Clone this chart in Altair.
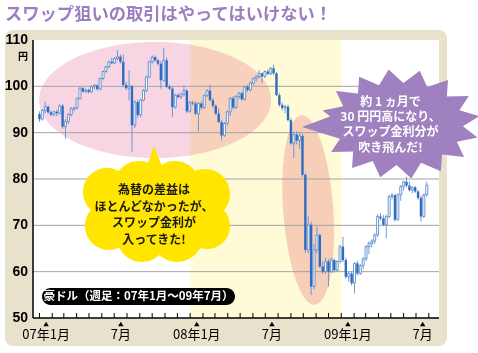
import math
import altair as alt
import pandas as pd

W, H = 406, 278
CJK = "Noto Sans CJK JP"

# ---------------- data (AUD/JPY weekly, Jan 2007 - Jul 2009) ----------------
open_ = [94.0, 92.9, 94.8, 95.6, 94.4, 93.9, 94.5, 94.2, 95.8, 91.3,
         92.4, 93.9, 95.2, 95.3, 97.4, 99.6, 98.9, 99.2, 98.8, 99.9,
         100.2, 99.4, 101.7, 103.2, 104.2, 105.3, 105.0, 106.0, 106.4, 105.3,
         100.3, 99.6, 100.0, 91.6, 96.6, 93.8, 97.0, 99.1, 102.0, 105.3,
         106.3, 105.6, 104.9, 101.3, 105.6, 99.9, 99.5, 95.5, 98.1, 97.7,
         98.3, 99.1, 94.6, 96.5, 96.3, 94.1, 96.3, 95.4, 98.0, 99.1,
         97.0, 95.8, 94.1, 92.3, 89.4, 92.0, 94.5, 97.4, 95.4, 97.8,
         98.5, 97.2, 99.9, 99.2, 100.7, 101.7, 102.1, 102.8, 102.1, 103.2,
         102.7, 103.9, 102.8, 98.1, 96.0, 95.3, 95.6, 92.7, 87.7, 89.6,
         88.3, 89.3, 80.9, 64.7, 70.1, 56.8, 64.7, 67.9, 61.1, 60.0,
         62.2, 60.0, 62.5, 60.3, 62.2, 65.4, 62.5, 58.9, 59.6, 57.5,
         61.8, 59.6, 61.3, 62.8, 65.4, 66.1, 66.6, 67.9, 71.9, 71.5,
         70.1, 71.9, 76.2, 76.5, 71.2, 76.6, 78.4, 79.4, 78.6, 77.6,
         78.2, 77.3, 75.9, 71.9, 76.6]
high = [94.6, 95.1, 96.7, 95.9, 94.8, 94.7, 94.9, 96.1, 96.2, 92.9,
        94.2, 95.5, 95.6, 97.6, 99.8, 99.9, 99.5, 99.5, 100.2, 100.5,
        100.4, 101.9, 103.4, 104.4, 105.5, 106.2, 106.3, 107.8, 106.9, 106.8,
        101.0, 103.5, 100.3, 97.0, 97.1, 97.3, 99.4, 102.3, 105.5, 106.7,
        106.6, 106.0, 105.4, 108.3, 106.2, 100.4, 100.0, 98.4, 98.5, 98.6,
        100.2, 99.4, 96.9, 96.9, 96.8, 96.6, 96.8, 98.3, 99.4, 100.4,
        97.5, 96.1, 95.2, 92.7, 92.3, 94.8, 97.7, 97.9, 98.1, 98.8,
        98.9, 100.2, 100.3, 101.0, 101.9, 102.4, 103.5, 103.0, 103.4, 103.6,
        104.1, 104.6, 103.1, 98.6, 96.5, 96.0, 96.0, 93.2, 90.2, 90.3,
        90.0, 89.8, 81.3, 71.9, 70.8, 66.0, 69.7, 68.3, 62.2, 63.0,
        62.7, 63.0, 62.9, 62.5, 65.8, 67.5, 63.0, 59.9, 60.0, 62.0,
        62.4, 61.6, 63.1, 65.7, 66.5, 67.0, 68.3, 72.4, 72.6, 72.2,
        72.3, 76.6, 77.0, 76.8, 76.9, 78.7, 79.6, 80.5, 79.4, 78.4,
        78.5, 77.6, 76.4, 76.9, 79.4]
low = [92.3, 92.6, 94.2, 94.1, 93.5, 93.5, 93.6, 93.9, 90.8, 88.7,
       91.9, 93.5, 94.6, 95.0, 97.1, 98.6, 98.5, 98.4, 98.6, 99.4,
       99.0, 99.2, 101.3, 102.9, 103.9, 104.8, 104.8, 105.6, 104.9, 99.8,
       99.2, 97.0, 85.9, 91.0, 93.2, 93.3, 96.7, 98.8, 101.8, 104.9,
       105.3, 104.5, 99.5, 101.0, 99.6, 99.2, 93.4, 95.2, 97.4, 97.3,
       97.9, 94.2, 94.3, 95.9, 93.8, 90.3, 94.9, 95.1, 97.7, 96.8,
       95.4, 93.8, 92.0, 88.3, 89.1, 91.6, 93.6, 95.0, 95.1, 97.2,
       96.9, 96.9, 98.8, 98.9, 100.3, 101.0, 101.7, 100.7, 101.8, 102.4,
       102.4, 102.5, 97.9, 95.6, 94.8, 94.2, 92.4, 87.4, 84.5, 87.5,
       86.5, 80.4, 64.0, 64.0, 55.0, 56.2, 64.0, 60.8, 59.5, 59.6,
       56.8, 59.7, 59.8, 60.0, 61.8, 62.0, 58.5, 57.8, 57.0, 55.3,
       59.2, 59.3, 60.5, 62.3, 63.8, 65.2, 66.0, 67.5, 71.0, 69.8,
       67.2, 71.5, 75.6, 70.8, 71.0, 75.3, 77.5, 78.2, 77.3, 76.9,
       77.0, 75.5, 70.8, 71.6, 76.2]
close = [92.9, 94.8, 95.6, 94.4, 93.9, 94.5, 94.2, 95.8, 91.3, 92.4,
         93.9, 95.2, 95.3, 97.4, 99.6, 98.9, 99.2, 98.8, 99.9, 100.2,
         99.4, 101.7, 103.2, 104.2, 105.3, 105.0, 106.0, 106.4, 105.3, 100.3,
         99.6, 100.0, 91.6, 96.6, 93.8, 97.0, 99.1, 102.0, 105.3, 106.3,
         105.6, 104.9, 101.3, 105.6, 99.9, 99.5, 95.5, 98.1, 97.7, 98.3,
         99.1, 94.6, 96.5, 96.3, 94.1, 96.3, 95.4, 98.0, 99.1, 97.0,
         95.8, 94.1, 92.3, 89.4, 92.0, 94.5, 97.4, 95.4, 97.8, 98.5,
         97.2, 99.9, 99.2, 100.7, 101.7, 102.1, 102.8, 102.1, 103.2, 102.7,
         103.9, 102.8, 98.1, 96.0, 95.3, 95.6, 92.7, 87.7, 89.6, 88.3,
         89.3, 80.9, 64.7, 70.1, 56.8, 64.7, 67.9, 61.1, 60.0, 62.2,
         60.0, 62.5, 60.3, 62.2, 65.4, 62.5, 58.9, 59.6, 57.5, 61.8,
         59.6, 61.3, 62.8, 65.4, 66.1, 66.6, 67.9, 71.9, 71.5, 70.1,
         71.9, 76.2, 76.5, 71.2, 76.6, 78.4, 79.4, 78.6, 77.6, 78.2,
         77.3, 75.9, 71.9, 76.6, 78.7]

y_ticks = [50, 60, 70, 80, 90, 100, 110]
grid_values = [60, 70, 80, 90, 100]
label_dates = ["2007-01-17", "2007-07-17", "2008-01-17", "2008-07-17", "2009-01-17", "2009-07-17"]
label_texts = ["07年1月", "7月", "08年1月", "7月", "09年1月", "7月"]
band_start, band_end = "2008-01-01", "2009-01-01"

title_text = "スワップ狙いの取引はやってはいけない！"
cloud_lines = ["為替の差益は", "ほとんどなかったが、", "スワップ金利が", "入ってきた!"]
burst_lines = ["約 1 ヵ月で", "30 円円高になり、", "スワップ金利分が", "吹き飛んだ!"]
pill_text = "豪ドル（週足：07年1月〜09年7月）"

# ---------------- frames ----------------
dates = pd.date_range("2007-01-01", periods=len(close), freq="7D").strftime("%Y-%m-%d")
df = pd.DataFrame({"date": dates, "open": open_, "high": high, "low": low, "close": close})
up = df[df["close"] >= df["open"]]
down = df[df["close"] < df["open"]]
one = pd.DataFrame({"k": [0]})
months = pd.DataFrame({"date": pd.date_range("2007-01-01", "2009-08-01", freq="MS").strftime("%Y-%m-%d")})
labels = pd.DataFrame({"date": label_dates, "label": label_texts})
band = pd.DataFrame({"start": [band_start], "end": [band_end]})
yt = pd.DataFrame({"v": y_ticks, "t": [str(v) for v in y_ticks]})

xscale = alt.Scale(type="utc", domain=[
    alt.DateTime(year=2006, month=12, date=28, hours=11, utc=True),
    alt.DateTime(year=2009, month=8, date=13, hours=13, utc=True)])
yscale = alt.Scale(domain=[50, 110], nice=False, zero=False)


def X(f):
    return alt.X(f, scale=xscale, axis=None)


def Y(f):
    return alt.Y(f, scale=yscale, axis=None)


# ---------------- decorative shape paths ----------------
def fmt(v, s):
    return f"{v / s:.4f}"


def ellipse_sub(cx, cy, rx, ry, s):
    k = 0.5523
    p = lambda a, b: f"{fmt(a, s)} {fmt(b, s)}"
    return (f"M{p(cx + rx, cy)} "
            f"C{p(cx + rx, cy + k * ry)} {p(cx + k * rx, cy + ry)} {p(cx, cy + ry)} "
            f"C{p(cx - k * rx, cy + ry)} {p(cx - rx, cy + k * ry)} {p(cx - rx, cy)} "
            f"C{p(cx - rx, cy - k * ry)} {p(cx - k * rx, cy - ry)} {p(cx, cy - ry)} "
            f"C{p(cx + k * rx, cy - ry)} {p(cx + rx, cy - k * ry)} {p(cx + rx, cy)} Z")


def poly_sub(pts, s):
    return "M" + " L".join(f"{fmt(a, s)} {fmt(b, s)}" for a, b in pts) + " Z"


pink_path = ellipse_sub(0, 0, 116, 58, 116)
pink_size = (2 * 116) ** 2
vert_path = ellipse_sub(0, 0, 25, 95, 95)
vert_size = (2 * 95) ** 2

S_c = 74
lobes = [(-50, -20, 24), (-18, -26, 25), (18, -26, 25), (48, -18, 25),
         (50, 14, 23), (20, 24, 26), (-15, 25, 25), (-48, 14, 24)]
cloud_path = ellipse_sub(0, 0, 60, 34, S_c)
for cx, cy, r in lobes:
    cloud_path += " " + ellipse_sub(cx, cy, r, r, S_c)
cloud_path += " " + poly_sub([(-3, -66), (8, -38), (-13, -38)], S_c)
cloud_size = (2 * S_c) ** 2

S_b = 98
N = 16
star = []
for j in range(2 * N):
    th = -math.pi / 2 + 0.25 + j * math.pi / N
    rx, ry = (80, 55) if j % 2 == 0 else (63, 41)
    star.append((rx * math.cos(th), ry * math.sin(th)))
burst_path = poly_sub(star, S_b) + " " + poly_sub([(-98, 3), (-58, -12), (-56, 16)], S_b)
burst_size = (2 * S_b) ** 2

# ---------------- layers ----------------
panel = alt.Chart(one).mark_rect(color="#e8e1cc", cornerRadius=8).encode(
    x=alt.value(-28), x2=alt.value(414), y=alt.value(-10), y2=alt.value(306))
plotbg = alt.Chart(one).mark_rect(color="white").encode(
    x=alt.value(0), x2=alt.value(W), y=alt.value(0), y2=alt.value(H))
yellow = alt.Chart(band).mark_rect(color="#fffbd6").encode(
    x=X("start:T"), x2="end:T", y=alt.value(0), y2=alt.value(H))

pink = alt.Chart(pd.DataFrame({"date": ["2007-10-08"], "v": [97.05]})).mark_point(
    shape=pink_path, size=pink_size, filled=True, opacity=1, color="#f7d5e2", blend="multiply"
).encode(x=X("date:T"), y=Y("v:Q"))
vert = alt.Chart(pd.DataFrame({"date": ["2008-10-13"], "v": [73.3]})).mark_point(
    shape=vert_path, size=vert_size, filled=True, opacity=1, color="#f7d2dc", blend="multiply", angle=356
).encode(x=X("date:T"), y=Y("v:Q"))

grid = alt.Chart(pd.DataFrame({"v": grid_values})).mark_rule(color="#a3a3a3", strokeWidth=1).encode(
    y=Y("v:Q"))

wicks = alt.Chart(df).mark_rule(color="#5f90d4", strokeWidth=0.9).encode(
    x=X("date:T"), y=Y("low:Q"), y2="high:Q")
down_b = alt.Chart(down).mark_bar(size=2.4, color="#2d6cc0").encode(
    x=X("date:T"), y=Y("open:Q"), y2="close:Q")
up_b = alt.Chart(up).mark_bar(size=2.0, fill="white", stroke="#4a82cc", strokeWidth=0.8).encode(
    x=X("date:T"), y=Y("open:Q"), y2="close:Q")

yline = alt.Chart(one).mark_rule(color="black", strokeWidth=1.5).encode(
    x=alt.value(0), y=alt.value(0), y2=alt.value(H))
ylabels = alt.Chart(yt).mark_text(font="Liberation Sans", fontSize=14, fontWeight="bold",
                                  color="black", align="right", baseline="middle").encode(
    x=alt.value(-5), y=Y("v:Q"), text="t:N")
xline = alt.Chart(one).mark_rule(color="black", strokeWidth=1.5).encode(
    x=alt.value(0), x2=alt.value(W), y=alt.value(H))
mticks = alt.Chart(months).mark_rule(color="black", strokeWidth=1).encode(
    x=X("date:T"), y=alt.value(H - 5), y2=alt.value(H))
tris = alt.Chart(labels).mark_point(shape="triangle-up", filled=True, opacity=1, color="black", size=30).encode(
    x=X("date:T"), y=alt.value(H + 6))
xlabels = alt.Chart(labels).mark_text(font=CJK, fontSize=13, color="black", baseline="middle").encode(
    x=X("date:T"), y=alt.value(H + 17), text="label:N")
yen = alt.Chart(one).mark_text(font=CJK, fontSize=10, fontWeight="bold", color="black",
                               align="right", baseline="middle").encode(
    x=alt.value(-5), y=alt.value(16.5), text=alt.value("円"))

pill = alt.Chart(one).mark_rect(color="black", cornerRadius=8.5).encode(
    x=alt.value(9), x2=alt.value(202), y=alt.value(248), y2=alt.value(265))
pill_t = alt.Chart(one).mark_text(font=CJK, fontSize=11.5, fontWeight="bold", color="white",
                                  align="center", baseline="middle").encode(
    x=alt.value(105.5), y=alt.value(256.5), text=alt.value(pill_text))

cloud = alt.Chart(one).mark_point(shape=cloud_path, size=cloud_size, filled=True, opacity=1,
                                  color="#ffe500").encode(x=alt.value(124), y=alt.value(172))
burst = alt.Chart(one).mark_point(shape=burst_path, size=burst_size, filled=True, opacity=1,
                                  color="#a081bf").encode(x=alt.value(367), y=alt.value(84))

text_layers = []
for k, line in enumerate(cloud_lines):
    text_layers.append(alt.Chart(one).mark_text(
        font=CJK, fontSize=12, fontWeight="bold", color="#1a1a1a", align="center", baseline="middle"
    ).encode(x=alt.value(121), y=alt.value(150 + 16.7 * k), text=alt.value(line)))
for k, line in enumerate(burst_lines):
    text_layers.append(alt.Chart(one).mark_text(
        font=CJK, fontSize=12, fontWeight="bold", color="white", align="center", baseline="middle"
    ).encode(x=alt.value(357.5), y=alt.value(61.5 + 15.4 * k), text=alt.value(line)))

title = alt.Chart(one).mark_text(font=CJK, fontSize=17.3, fontWeight="bold", color="#9c7fbe",
                                 align="left", baseline="middle").encode(
    x=alt.value(-28), y=alt.value(-25), text=alt.value(title_text))

chart = alt.layer(
    panel, plotbg, yellow, pink, vert, grid, wicks, down_b, up_b,
    yline, ylabels, xline, mticks, tris, xlabels, yen, pill, pill_t, cloud, burst,
    *text_layers, title
).properties(
    width=W, height=H,
    padding={"left": 33, "top": 40, "right": 39, "bottom": 35},
    autosize=alt.AutoSizeParams(type="none"),
    background="white",
).configure_view(stroke="transparent")

chart.save("out.html", embed_options={"renderer": "svg", "actions": False})
